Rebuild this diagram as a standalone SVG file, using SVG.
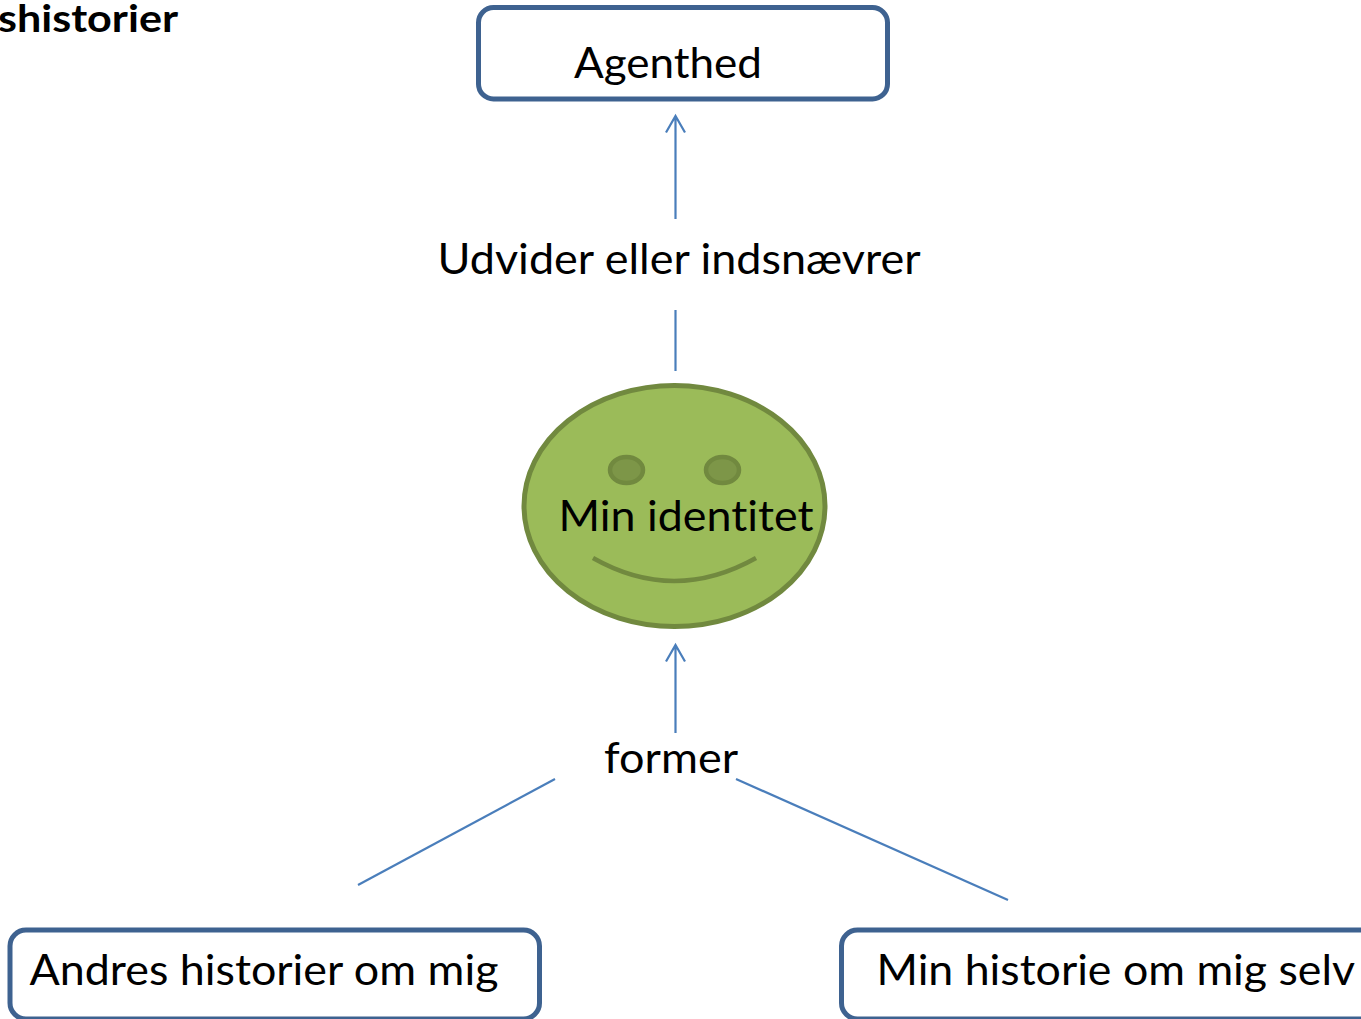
<svg xmlns="http://www.w3.org/2000/svg" width="1361" height="1019" viewBox="0 0 1361 1019">
<style>
text{font-family:"Lato","Open Sans","Liberation Sans",sans-serif;font-size:42px;fill:#000;font-variant-ligatures:none}
.box{fill:#fff;stroke:#3e6290;stroke-width:5}
.c{fill:none;stroke:#4a7ebb;stroke-width:2.2}
.f{fill:none;stroke:#71893f;stroke-width:4.5}
</style>
<rect width="1361" height="1019" fill="#fff"/>
<text id="title" x="-2" y="32" style="font-weight:700;font-size:38px" textLength="180" lengthAdjust="spacingAndGlyphs">shistorier</text>
<g id="connectors">
<path class="c" d="M675.500 219V116M666 132.500L675.500 116L685 132.500"/>
<path class="c" d="M675.500 371V310"/>
<path class="c" d="M675.500 733V645M666 661.500L675.500 645L685 661.500"/>
<path class="c" d="M358 885L555 779"/>
<path class="c" d="M1008 900L736 779"/>
</g>
<g id="agenthed">
<rect class="box" x="478.500" y="7.500" width="409" height="91.500" rx="15"/>
<text x="574" y="78" textLength="188" lengthAdjust="spacingAndGlyphs">Agenthed</text>
</g>
<g id="label-udvider"><text x="437.500" y="274" textLength="483" lengthAdjust="spacingAndGlyphs">Udvider eller indsnævrer</text></g>
<g id="min-identitet">
<ellipse cx="674.500" cy="506" rx="150.500" ry="120.500" fill="#9bbb59" stroke="#71893f" stroke-width="5"/>
<ellipse cx="626.500" cy="470" rx="16.500" ry="13" fill="#7d9648" stroke="#71893f" stroke-width="4.500"/>
<ellipse cx="722.500" cy="470" rx="16.500" ry="13" fill="#7d9648" stroke="#71893f" stroke-width="4.500"/>
<path class="f" d="M593 558Q674 604 756 558"/>
<text x="558.500" y="531" textLength="255" lengthAdjust="spacingAndGlyphs">Min identitet</text>
</g>
<g id="label-former"><text x="604" y="773" textLength="134" lengthAdjust="spacingAndGlyphs">former</text></g>
<g id="andres">
<rect class="box" x="10" y="930" width="529.500" height="89" rx="16"/>
<text x="29.500" y="985" textLength="469" lengthAdjust="spacingAndGlyphs">Andres historier om mig</text>
</g>
<g id="min-historie">
<rect class="box" x="841.500" y="930" width="560" height="89" rx="16"/>
<text x="876.500" y="985" textLength="478.500" lengthAdjust="spacingAndGlyphs">Min historie om mig selv</text>
</g>
</svg>
